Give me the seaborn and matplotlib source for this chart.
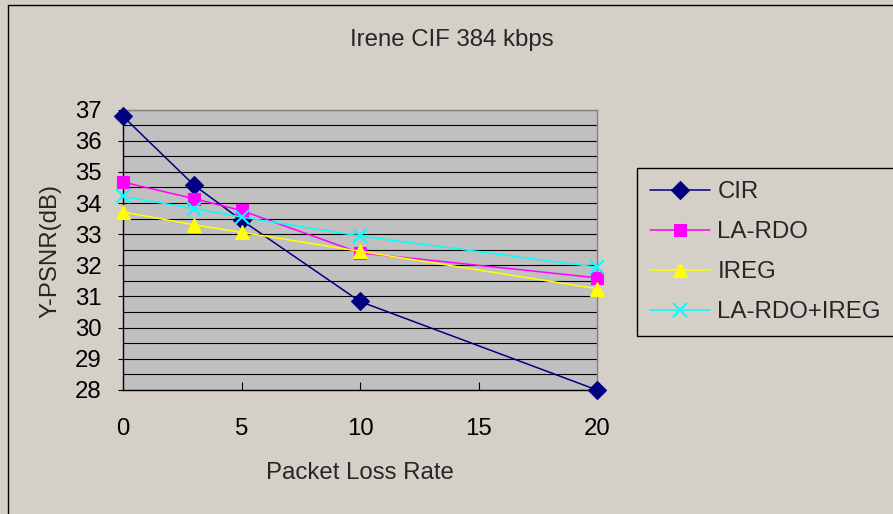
import matplotlib
matplotlib.use("Agg")
import matplotlib.pyplot as plt
import seaborn as sns
import pandas as pd
from matplotlib.ticker import MultipleLocator
from matplotlib.lines import Line2D

# ---- data ----
loss_rate = [0, 3, 5, 10, 20]
cir = [36.78, 34.57, 33.45, 30.84, 28.00]
la_rdo = [34.67, 34.14, 33.76, 32.40, 31.60]
ireg = [33.71, 33.30, 33.06, 32.45, 31.25]
la_rdo_ireg = [34.21, 33.82, 33.55, 32.94, 31.94]
series_names = ["CIR", "LA-RDO", "IREG", "LA-RDO+IREG"]
x_ticks = [0, 5, 10, 15, 20]
y_ticks = list(range(28, 38))
title_text = "Irene CIF 384 kbps"
x_label = "Packet Loss Rate"
y_label = "Y-PSNR(dB)"

df = pd.DataFrame({
    "x": loss_rate * 4,
    "y": cir + la_rdo + ireg + la_rdo_ireg,
    "series": sum([[n] * len(loss_rate) for n in series_names], []),
})

sns.set_style("ticks")
plt.rcParams["font.family"] = ["Liberation Sans", "DejaVu Sans"]

W, H = 893, 514
BG = "#D4D0C8"
FS = 17.3
fig = plt.figure(figsize=(W / 100, H / 100), dpi=100, facecolor=BG)
ax = fig.add_axes([123 / W, 1 - 390 / H, (597 - 123) / W, (390 - 109.5) / H])
ax.set_facecolor("#C0C0C0")

styles = {
    "CIR": dict(color="#000080", marker="D", markersize=9.5, mew=0.8),
    "LA-RDO": dict(color="#FF00FF", marker="s", markersize=9, mew=0.8),
    "IREG": dict(color="#FFFF00", marker="^", markersize=10.5, mew=0.8),
    "LA-RDO+IREG": dict(color="#00FFFF", marker="x", markersize=10, mew=1.5),
}

for name in series_names:
    st = styles[name]
    sub = df[df["series"] == name]
    sns.lineplot(data=sub, x="x", y="y", ax=ax, color=st["color"],
                 marker=st["marker"], markersize=st["markersize"],
                 markeredgecolor=st["color"], markerfacecolor=st["color"],
                 markeredgewidth=st["mew"], linewidth=1.1, label=name,
                 clip_on=False, zorder=3)

ax.set_xlim(0, 20)
ax.set_ylim(28, 37)
ax.set_xticks(x_ticks)
ax.set_yticks(y_ticks)
ax.yaxis.set_minor_locator(MultipleLocator(0.5))
ax.grid(which="both", axis="y", color="black", linewidth=0.8)
ax.grid(False, axis="x")
ax.set_axisbelow(True)

ax.tick_params(axis="y", which="major", direction="out", length=3.5, width=0.8,
               pad=12, labelsize=FS, colors="black")
ax.tick_params(axis="y", which="minor", length=0)
ax.tick_params(axis="x", which="major", direction="in", length=6, width=0.8,
               pad=20.5, labelsize=FS, colors="black")

for s in ["left", "bottom"]:
    ax.spines[s].set_color("black")
    ax.spines[s].set_linewidth(1.0)
for s in ["top", "right"]:
    ax.spines[s].set_color("#808080")
    ax.spines[s].set_linewidth(1.0)
    ax.spines[s].set_visible(True)

ax.set_xlabel("")
ax.set_ylabel("")

fig.text(452 / W, 1 - 46 / H, title_text, ha="center", va="baseline", fontsize=FS)
fig.text(360 / W, 1 - 473 / H, x_label, ha="center", va="center", fontsize=FS)
fig.text(50 / W, 1 - 251 / H, y_label, ha="center", va="center", rotation=90,
         fontsize=FS)

leg = ax.legend(loc="upper left", bbox_to_anchor=(637 / W, 1 - 168 / H),
                bbox_transform=fig.transFigure, borderaxespad=0,
                fontsize=FS, frameon=True, fancybox=False, shadow=False,
                handlelength=2.5, handletextpad=0.3, labelspacing=0.75,
                borderpad=0.55, facecolor=BG, edgecolor="black", framealpha=1)
leg.get_frame().set_linewidth(1.0)

# outer chart border (left and top visible in reference)
fig.add_artist(Line2D([7.5 / W, 7.5 / W], [0, 1 - 4.5 / H], color="black", lw=1.0))
fig.add_artist(Line2D([7.5 / W, 1], [1 - 4.5 / H, 1 - 4.5 / H], color="black", lw=1.0))

fig.savefig("out.png", dpi=100, facecolor=BG)
